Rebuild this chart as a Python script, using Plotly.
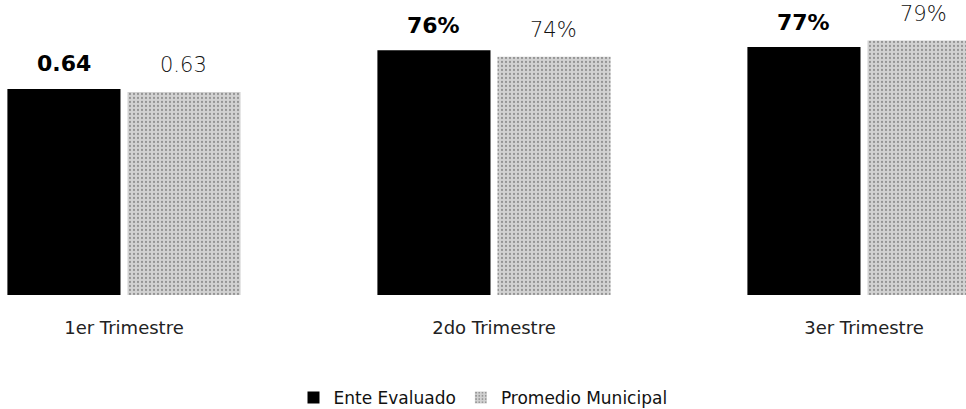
import plotly.graph_objects as go

categories = ["1er Trimestre", "2do Trimestre", "3er Trimestre"]
ente_values = [64, 76, 77]
promedio_values = [63, 74, 79]
ente_labels = ["0.64", "76%", "77%"]
promedio_labels = ["0.63", "74%", "79%"]

fig = go.Figure()
fig.add_trace(go.Bar(
    x=categories, y=ente_values, name="Ente Evaluado",
    marker=dict(color="#000000", line=dict(width=0)),
    hoverinfo="skip",
))
fig.add_trace(go.Bar(
    x=categories, y=promedio_values, name="Promedio Municipal",
    marker=dict(color="#cfcfcf", line=dict(width=0),
                pattern=dict(shape=".", fgcolor="#555555", bgcolor="#d2d2d2",
                             size=4, solidity=0.25)),
    hoverinfo="skip",
))

annotations = []
for c, v, t in zip(categories, ente_values, ente_labels):
    annotations.append(dict(
        x=c, y=v, text=f"<b>{t}</b>", showarrow=False, xref="x", yref="y",
        xshift=-60, yshift=25, yanchor="middle",
        font=dict(family="DejaVu Sans", size=22, color="#000000"),
    ))
for c, v, t in zip(categories, promedio_values, promedio_labels):
    annotations.append(dict(
        x=c, y=v, text=t, showarrow=False, xref="x", yref="y",
        xshift=60, yshift=27, yanchor="middle",
        font=dict(family="DejaVu Sans", size=21, color="#111111", weight=200),
    ))

fig.update_layout(
    width=966, height=409,
    margin=dict(l=0, r=0, t=0, b=114),
    paper_bgcolor="white", plot_bgcolor="white",
    barmode="group", bargap=0.351, bargroupgap=0.058,
    annotations=annotations,
    showlegend=True,
    legend=dict(
        orientation="h", x=0.5, xanchor="center",
        yref="container", y=0.027, yanchor="middle",
        font=dict(family="DejaVu Sans", size=17, color="#111111"),
        itemwidth=30, traceorder="normal",
    ),
    xaxis=dict(
        range=[-0.3351, 2.2757], showgrid=False, zeroline=False,
        showline=False, ticks="", ticklabelstandoff=20,
        tickfont=dict(family="DejaVu Sans", size=18, color="#222222"),
    ),
    yaxis=dict(
        range=[0, 91.6], visible=False, showgrid=False, zeroline=False,
    ),
)

fig.write_html("out.html", config={"displayModeBar": False},
               post_script="document.body.style.margin='0';")
